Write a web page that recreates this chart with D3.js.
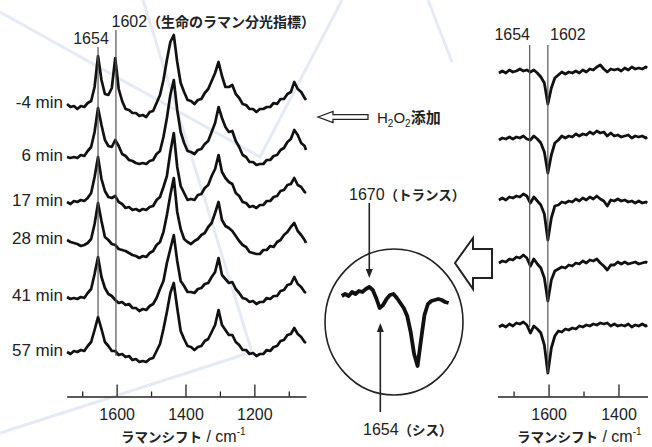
<!DOCTYPE html>
<head>
<meta charset="utf-8">
<script src="https://d3js.org/d3.v7.min.js"></script>
<style>
  body { margin:0; background:#fff; }
  svg { display:block; }
  text { font-family: "Liberation Sans", Arial, "Noto Sans CJK JP", sans-serif; fill:#222; }
  .jp { font-family: "Noto Sans CJK JP", sans-serif; font-weight: bold; }
</style>
</head>
<body>
<script>
// ---- left panel: spectra after H2O2 addition ----
var times = ["-4 min", "6 min", "17 min", "28 min", "41 min", "57 min"];
var offsets = [247, 196, 150, 112, 55, 0];   // stacking offset of each spectrum
var wnLeft = [1744,1734,1724,1714,1704,1694,1684,1674,1664,1654,1644,1634,1624,1614,1604,1594,1584,1574,1564,1554,
  1544,1534,1524,1514,1504,1494,1484,1474,1464,1454,1444,1434,1424,1414,1404,1394,1384,1374,1364,1354,
  1344,1334,1324,1314,1304,1294,1284,1274,1264,1254,1244,1234,1224,1214,1204,1194,1184,1174,1164,1154,
  1144,1134,1124,1114,1104,1094,1084,1074,1064,1054,1050];
var specM4 = [1,-2,-1,-4,-1,-2,2,4,18,49, 25,11,10,17,47,16,4,-4,-5,-8, -8,-11,-10,-12,-7,-6,2,10,25,45,
  63,70,43,22,13,5,4,1,5,6, 12,16,24,32,43,29,18,18,20,11, 7,1,0,-4,-4,-7,-4,-4,-2,-2, 2,1,6,6,11,13,23,16,13,7, 5];
var spec6 = [-1,-2,-1,-2,1,0,5,9,24,48, 31,16,10,9,16,10,2,0,-4,-5, -7,-8,-7,-8,-5,-4,2,5,19,38,
  61,76,46,24,13,5,4,2,6,7, 12,15,24,33,49,38,29,24,25,15, 9,1,-1,-6,-6,-9,-8,-8,-4,-4, 0,1,6,8,14,17,26,21,13,10, 6];
var spec17 = [0,-2,1,0,2,1,4,9,25,45, 23,11,5,4,6,0,-2,-6,-5,-8, -7,-9,-7,-8,-5,-4,2,5,15,26,
  50,69,35,16,9,2,3,2,7,8, 14,17,26,33,47,30,24,20,18,9, 6,0,-1,-5,-4,-6,-3,-3,1,1, 5,6,11,12,17,18,24,17,15,10, 9];
var spec28 = [0,-2,-3,-4,-6,-5,-3,1,16,37, 19,3,0,-4,-5,-9,-10,-11,-13,-15, -16,-18,-16,-17,-13,-11,-5,-2,8,25,
  45,62,28,11,1,-2,-4,-1,1,5, 7,13,17,27,38,20,14,12,9,4, -1,-5,-7,-12,-13,-14,-14,-10,-10,-6, -7,-2,0,5,8,13,17,9,5,0, -3];
var spec41 = [0,-2,-1,-2,0,-1,4,8,23,40, 20,9,3,1,-3,-6,-5,-8,-7,-11, -11,-14,-12,-13,-9,-7,-1,8,16,34,
  48,62,36,16,11,5,5,4,8,9, 13,14,20,25,39,22,18,14,15,8, 4,-1,-2,-5,-4,-7,-5,-5,-1,-2, 1,1,6,7,12,13,20,13,10,5, 4];
var spec57 = [0,-2,1,0,2,1,6,10,22,35, 23,10,6,1,1,-3,-2,-5,-4,-8, -7,-10,-9,-10,-7,-6,1,8,23,40,
  59,69,44,21,13,6,5,2,5,6, 11,13,20,27,42,27,22,17,17,10, 7,2,2,-2,-1,-4,-2,-2,2,1, 5,6,11,12,17,18,24,18,15,10, 9];
var leftSeries = [specM4, spec6, spec17, spec28, spec41, spec57];

// ---- right panel: difference spectra ----
var rightOffsets = [279, 212, 152, 89, 25];
var wnRight = [1742,1732,1722,1712,1702,1692,1682,1672,1662,1652,1642,1632,1622,1612,1602,1592,1582,1572,1562,1552,
  1542,1532,1522,1512,1502,1492,1482,1472,1462,1452,1442,1432,1422,1412,1402,1392,1382,1372,1362,1352,1342,1332,1322,1318];
var diff6 = [0,2,0,3,1,2,4,2,3,1, 3,0,-4,-10,-31,-15,-5,-2,1,-1, 1,0,2,0,3,1,4,3,6,8, 4,1,4,3,4,2,5,3,6,4, 5,4,6,5];
var diff17 = [0,2,1,3,1,3,2,4,1,0, 4,1,-3,-12,-33,-15,-3,0,4,2, 4,3,6,4,6,5,8,6,9,7, 8,4,7,4,5,3,4,5,2,4, 3,4,2,3];
var diff28 = [0,2,0,3,2,4,3,6,4,-3, 3,-1,-5,-14,-40,-18,-6,-5,-2,-3, -1,-2,1,-1,2,0,3,1,4,1, -1,-6,0,-1,1,-1,0,-2,-1,-3, -1,-3,-2,-3];
var diff41 = [0,2,1,4,3,6,5,8,5,-3, 4,-1,-5,-15,-38,-17,-8,-6,-4,-5, -2,-3,0,-1,2,0,3,2,4,0, -3,-7,-2,-2,1,-1,1,-1,0,1, -1,0,1,0];
var diff57 = [0,2,0,3,1,4,3,5,2,-6, 1,-2,-6,-18,-46,-21,-9,-4,-5,-2, -3,-1,-2,1,0,2,1,3,2,4, 3,4,1,3,1,2,1,3,0,2, 1,3,1,2];
var rightSeries = [diff6, diff17, diff28, diff41, diff57];

// ---- inset (magnified difference spectrum) ----
var wnInset = [1710,1705,1700,1695,1690,1685,1680,1675,1670,1665,1660,1655,1650,1645,1640,1635,
  1630,1625,1620,1615,1610,1605,1600,1595,1590,1585,1580,1575,1570,1565,1560,1555];
var insetValues = [4,6,4,8,6,9,8,11,13,10, 2,-8,-5,1,5,6,2,-3,-8,-16, -32,-54,-66,-40,-15,-4,-1,0,1,0, -2,-3];

var leftMajor = [1600, 1400, 1200], leftMinor = [1700, 1500, 1300, 1100];
var rightMajor = [1600, 1400], rightMinor = [1700, 1500];

var svg = d3.select("body").append("svg").attr("width", 652).attr("height", 447);

// faint background watermark lines
var bg = [[[0,12],[260,157],[342,0]], [[143,0],[252,352],[0,433]], [[428,0],[452,62]]];
bg.forEach(function(p) {
  svg.append("path").attr("d", d3.line()(p)).attr("fill", "none")
    .attr("stroke", "#e4ebf6").attr("stroke-width", 3);
});

var xL = d3.scaleLinear().domain([1745, 1050]).range([66.7, 306]);
var xR = d3.scaleLinear().domain([1746, 1317]).range([497.5, 647.5]);
var y = d3.scaleLinear().domain([0, 100]).range([352, 252]);
var xI = d3.scaleLinear().domain([1710, 1555]).range([341.7, 448.6]);
var yI = d3.scaleLinear().domain([-70, 20]).range([370, 280]);

var line = d3.line();

function trace(xs, wns, vals, off, sw) {
  var pts = wns.map(function(w, i) { return [xs(w), y(off + vals[i])]; });
  svg.append("path").attr("d", line(pts)).attr("fill", "none")
    .attr("stroke", "#111").attr("stroke-width", sw).attr("stroke-linejoin", "round");
}

leftSeries.forEach(function(v, k) { trace(xL, wnLeft, v, offsets[k], 2.7); });
rightSeries.forEach(function(v, k) { trace(xR, wnRight, v, rightOffsets[k], 2.8); });

// row labels
svg.selectAll("text.row").data(times).enter().append("text")
  .attr("class", "row")
  .attr("x", 63)
  .attr("y", function(d, k) { return y(offsets[k] + leftSeries[k][0]) + 4; })
  .attr("text-anchor", "end").attr("font-size", 17)
  .text(function(d) { return d; });

// marker lines
function vline(x, y1, y2) {
  svg.append("line").attr("x1", x).attr("x2", x).attr("y1", y1).attr("y2", y2)
    .attr("stroke", "#555").attr("stroke-width", 1.2);
}
vline(xL(1654), 47, y(offsets[5] + spec57[wnLeft.indexOf(1654)]));
vline(xL(1602), 30, y(offsets[5] + spec57[wnLeft.indexOf(1604)]) + 5);
vline(xR(1654), 45, y(rightOffsets[4]));
vline(xR(1602), 45, y(rightOffsets[4] + diff57[wnRight.indexOf(1602)]));

// axes
function axes(x, major, minor) {
  var gMaj = svg.append("g").attr("transform", "translate(0,396.5)")
    .call(d3.axisBottom(x).tickValues(major).tickSize(-12).tickSizeOuter(0).tickPadding(12).tickFormat(d3.format("d")));
  var gMin = svg.append("g").attr("transform", "translate(0,396.5)")
    .call(d3.axisBottom(x).tickValues(minor).tickSize(-5).tickSizeOuter(0).tickFormat(""));
  gMin.select(".domain").remove();
  [gMaj, gMin].forEach(function(g) {
    g.attr("font-size", 16).attr("font-family", null);
    g.selectAll("path, line").attr("stroke", "#222").attr("stroke-width", 1.3);
    g.selectAll("text").attr("fill", "#222");
  });
}
axes(xL, leftMajor, leftMinor);
axes(xR, rightMajor, rightMinor);

function axisTitle(x0) {
  var t = svg.append("text").attr("x", x0).attr("y", 442);
  t.append("tspan").attr("class", "jp").attr("font-size", 13.5).text("ラマンシフト");
  t.append("tspan").attr("font-size", 16).text(" / cm");
  t.append("tspan").attr("font-size", 10).attr("dy", -7).text("-1");
}
axisTitle(121);
axisTitle(517);

// peak labels
svg.append("text").attr("x", 91).attr("y", 43.5).attr("text-anchor", "middle").attr("font-size", 16).text("1654");
var t1 = svg.append("text").attr("x", 111.5).attr("y", 27);
t1.append("tspan").attr("font-size", 16).text("1602");
t1.append("tspan").attr("class", "jp").attr("font-size", 14).text("（生命のラマン分光指標）");
svg.append("text").attr("x", 530).attr("y", 40).attr("text-anchor", "end").attr("font-size", 16).text("1654");
svg.append("text").attr("x", 550).attr("y", 40).attr("font-size", 16).text("1602");

// H2O2 addition arrow
svg.append("path")
  .attr("d", "M318,117 L333,111.5 L333,114.7 L368,114.7 L368,119.3 L333,119.3 L333,122.5 Z")
  .attr("fill", "#fff").attr("stroke", "#222").attr("stroke-width", 1.3);
var h = svg.append("text").attr("x", 377).attr("y", 123).attr("font-size", 15);
h.append("tspan").text("H");
h.append("tspan").attr("font-size", 10).attr("dy", 4).text("2");
h.append("tspan").attr("dy", -4).text("O");
h.append("tspan").attr("font-size", 10).attr("dy", 4).text("2");
h.append("tspan").attr("class", "jp").attr("dy", -4).text("添加");

// big hollow arrow toward the inset
svg.append("path")
  .attr("d", "M455,263 L473,238 L473,249 L492,249 L492,278 L473,278 L473,289 Z")
  .attr("fill", "#fff").attr("stroke", "#222").attr("stroke-width", 2);

// inset
svg.append("ellipse").attr("cx", 394).attr("cy", 322).attr("rx", 69).attr("ry", 73)
  .attr("fill", "none").attr("stroke", "#222").attr("stroke-width", 1.6);
svg.append("path")
  .attr("d", line(wnInset.map(function(w, i) { return [xI(w), yI(insetValues[i])]; })))
  .attr("fill", "none").attr("stroke", "#111").attr("stroke-width", 3.8).attr("stroke-linejoin", "round");

function arrow(x, y1, y2) {
  var dir = y2 > y1 ? 1 : -1;
  svg.append("line").attr("x1", x).attr("x2", x).attr("y1", y1).attr("y2", y2 - dir * 7)
    .attr("stroke", "#222").attr("stroke-width", 1.6);
  svg.append("path").attr("d", "M" + (x - 3.5) + "," + (y2 - dir * 9) + " L" + x + "," + y2 + " L" + (x + 3.5) + "," + (y2 - dir * 9) + " Z")
    .attr("fill", "#222");
}
arrow(xI(1670), 203, 278);
arrow(xI(1654), 412, 323);

var a1 = svg.append("text").attr("x", 349).attr("y", 200);
a1.append("tspan").attr("font-size", 16).text("1670");
a1.append("tspan").attr("class", "jp").attr("font-size", 13.5).text("（トランス）");
var a2 = svg.append("text").attr("x", 363).attr("y", 435);
a2.append("tspan").attr("font-size", 16).text("1654");
a2.append("tspan").attr("class", "jp").attr("font-size", 13.5).text("（シス）");
</script>
</body>
